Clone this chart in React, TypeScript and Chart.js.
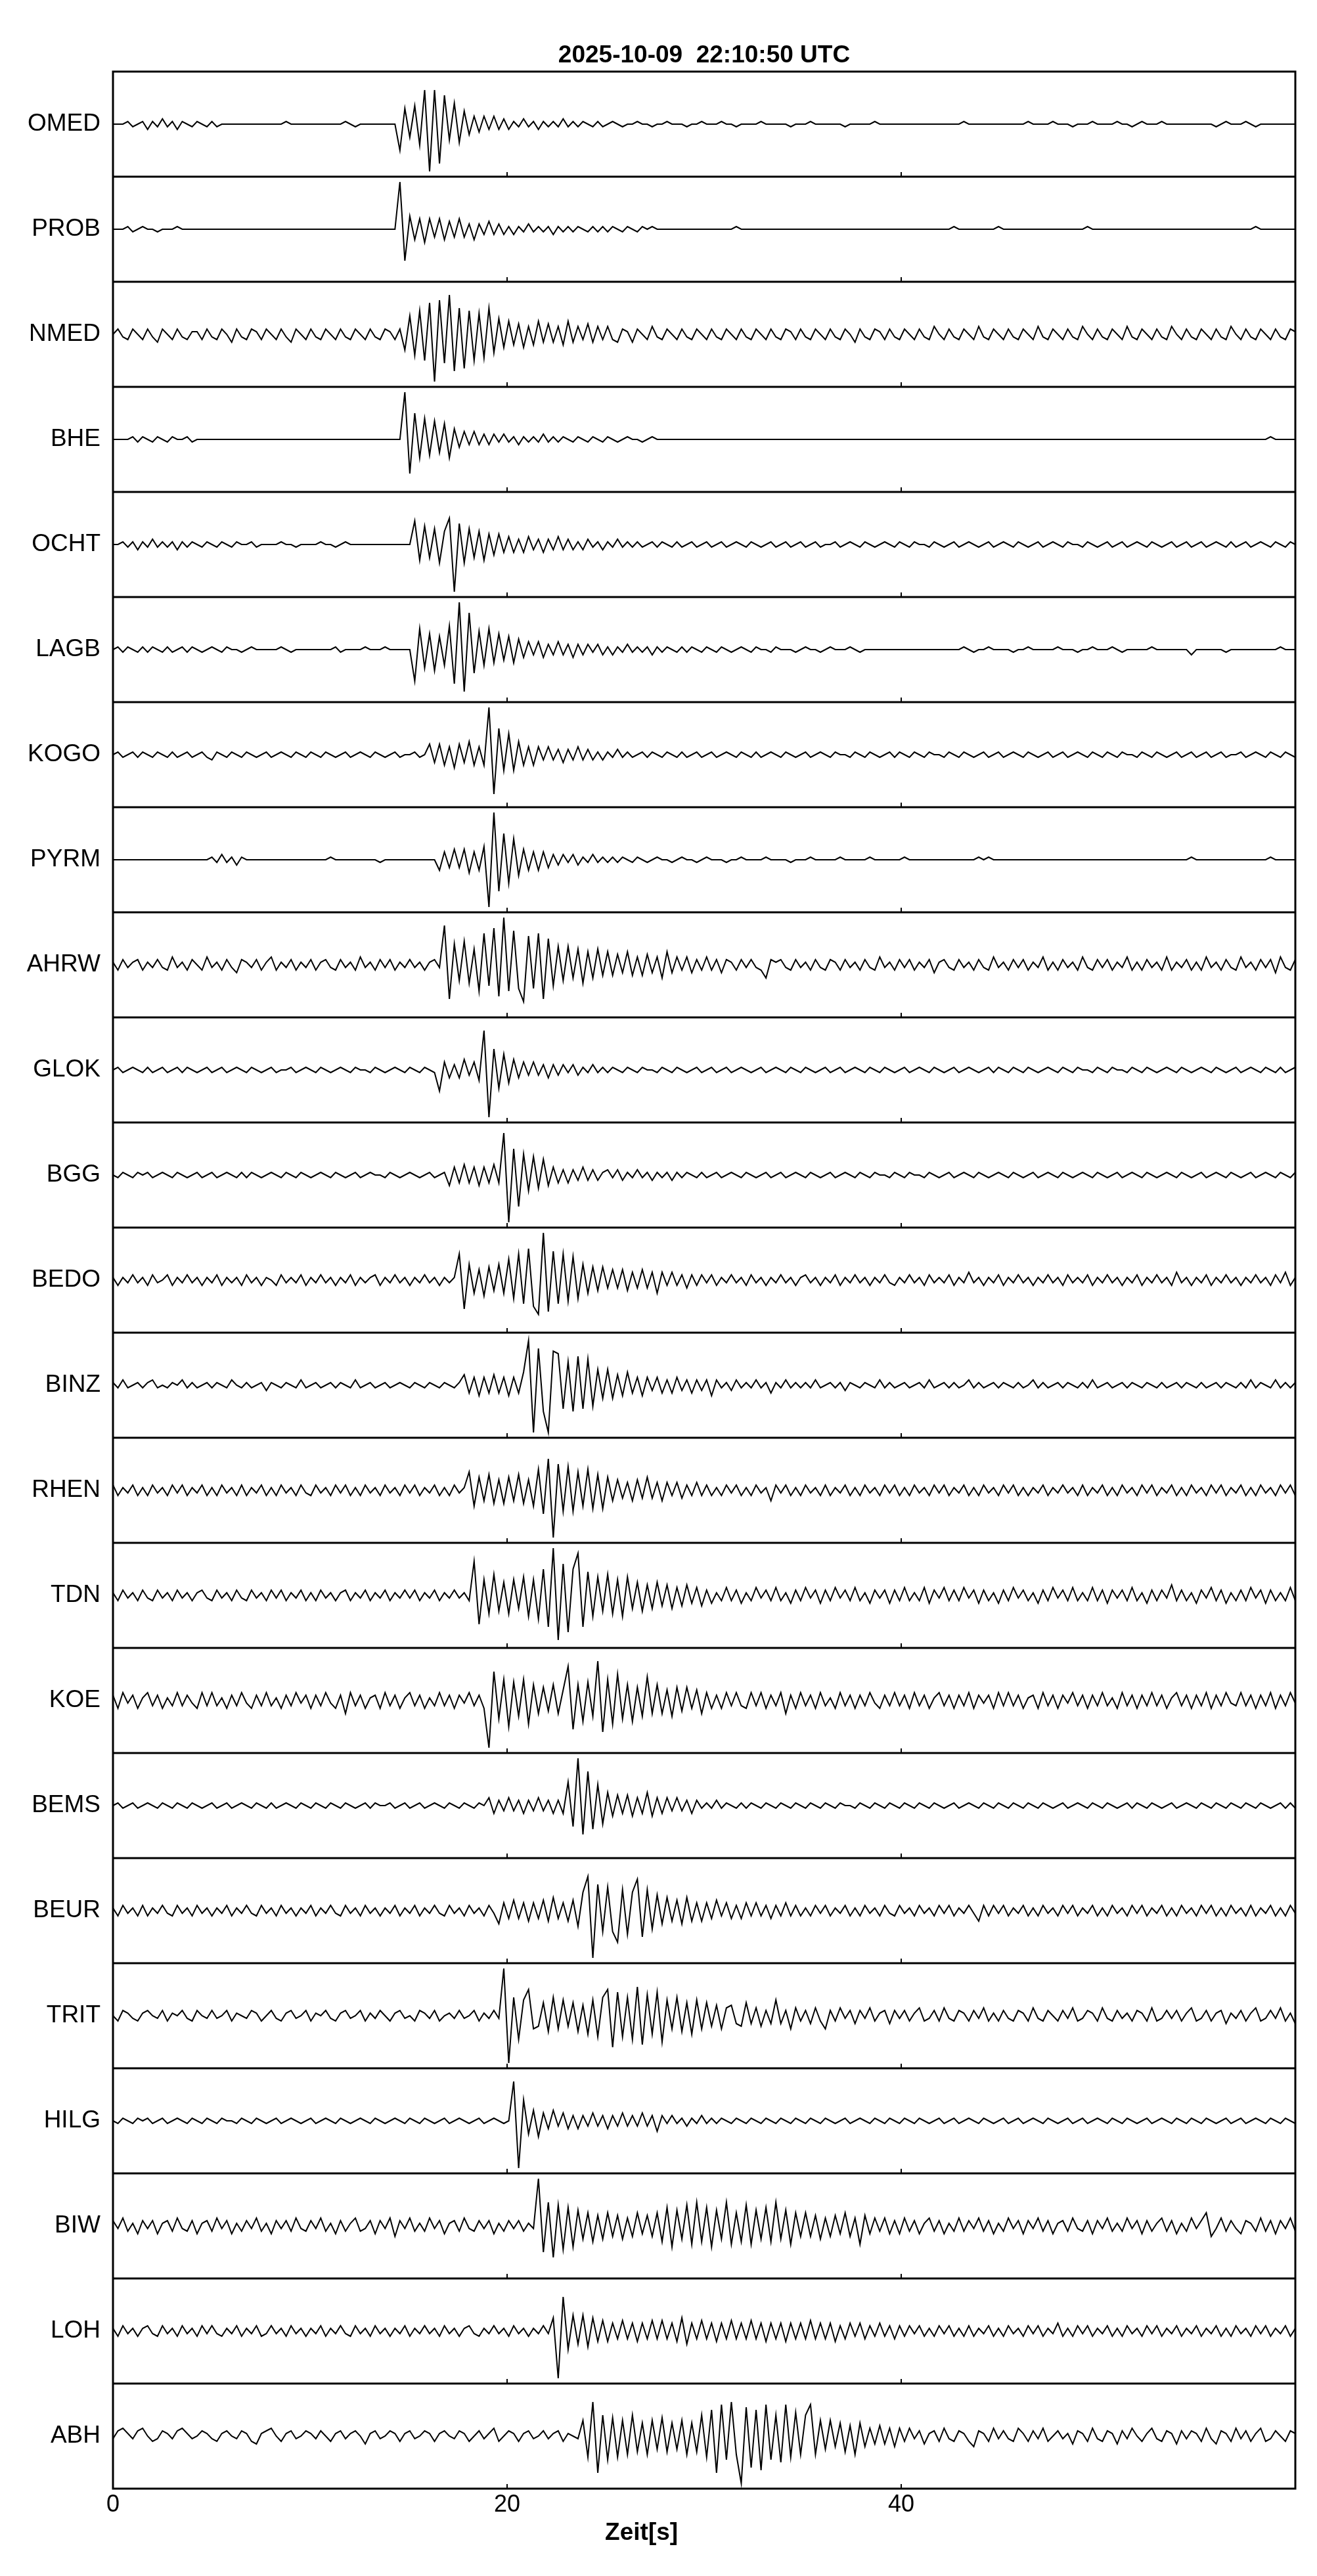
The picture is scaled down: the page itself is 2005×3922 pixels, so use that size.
import { useEffect, useRef } from "react";
import { Chart, registerables } from "chart.js";

Chart.register(...registerables);

const TITLE = "2025-10-09  22:10:50 UTC";
const X_LABEL = "Zeit[s]";
const X_TICKS = [0, 20, 40];
const X_MIN = 0;
const X_MAX = 60;

const STATIONS = [
  "OMED", "PROB", "NMED", "BHE", "OCHT", "LAGB", "KOGO", "PYRM", "AHRW", "GLOK", "BGG", "BEDO",
  "BINZ", "RHEN", "TDN", "KOE", "BEMS", "BEUR", "TRIT", "HILG", "BIW", "LOH", "ABH",
];

// amplitudes sampled every 0.25 s (20 values per 5 s row); 20 = half a trace band
const OMED = [
  0,0,0,1,-1,0,1,-2,1,-1,2,-1,1,-2,1,0,-1,1,0,-1,
  1,-1,0,0,0,0,0,0,0,0,0,0,0,0,0,1,0,0,0,0,
  0,0,0,0,0,0,0,1,0,-1,0,0,0,0,0,0,0,0,-10,6,
  -5,7,-8,13,-18,13,-15,11,-6,8,-7,5,-4,3,-3,3,-2,3,-2,2,
  -2,1,-1,2,-1,1,-2,1,-1,1,-1,2,-1,1,-1,1,0,-1,1,-1,
  0,1,0,-1,0,0,1,0,0,-1,0,0,1,0,0,0,-1,0,0,1,
  0,0,0,1,0,0,-1,0,0,0,0,1,0,0,0,0,0,-1,0,0,
  0,1,0,0,0,0,0,0,-1,0,0,0,0,0,1,0,0,0,0,0,
  0,0,0,0,0,0,0,0,0,0,0,0,1,0,0,0,0,0,0,0,
  0,0,0,0,0,1,0,0,0,0,1,0,0,0,-1,0,0,0,1,0,
  0,0,0,1,0,0,-1,0,1,0,0,0,1,0,0,0,0,0,0,0,
  0,0,0,-1,0,1,0,0,0,1,0,-1,0,0,0,0,0,0,0,0,
];
const PROB = [
  0,0,0,1,-1,0,1,0,0,-1,0,0,0,1,0,0,0,0,0,0,
  0,0,0,0,0,0,0,0,0,0,0,0,0,0,0,0,0,0,0,0,
  0,0,0,0,0,0,0,0,0,0,0,0,0,0,0,0,0,0,18,-12,
  5,-4,4,-5,4,-3,4,-4,3,-3,4,-3,2,-4,2,-2,3,-2,2,-2,
  1,-2,1,-1,2,-1,1,-1,1,-2,1,-1,1,-1,1,0,-1,1,-1,1,
  -1,1,0,-1,1,0,-1,1,0,1,0,0,0,0,0,0,0,0,0,0,
  0,0,0,0,0,0,1,0,0,0,0,0,0,0,0,0,0,0,0,0,
  0,0,0,0,0,0,0,0,0,0,0,0,0,0,0,0,0,0,0,0,
  0,0,0,0,0,0,0,0,0,0,1,0,0,0,0,0,0,0,0,1,
  0,0,0,0,0,0,0,0,0,0,0,0,0,0,0,0,0,1,0,0,
  0,0,0,0,0,0,0,0,0,0,0,0,0,0,0,0,0,0,0,0,
  0,0,0,0,0,0,0,0,0,0,0,1,0,0,0,0,0,0,0,0,
];
const NMED = [
  0,2,-1,-2,2,0,-2,2,-1,-3,2,0,-2,2,-1,-2,1,1,-2,2,
  -1,-2,2,0,-3,2,-1,-2,2,1,-2,2,0,-2,2,-1,-3,2,0,-2,
  2,-1,-2,2,0,-2,2,-1,-2,2,0,-2,2,-1,-2,2,1,-2,2,-6,
  7,-8,9,-10,12,-18,13,-11,15,-14,10,-13,9,-10,8,-9,10,-7,6,-5,
  5,-4,4,-5,3,-4,5,-3,4,-3,3,-4,5,-3,3,-2,4,-3,3,-2,
  3,-2,-3,2,1,-3,2,0,-2,3,-1,-2,2,0,-2,2,-1,-2,2,0,
  -2,2,-1,-2,2,0,-2,2,-1,-2,2,0,-2,2,-1,-2,2,1,-2,2,
  -1,-2,2,0,-2,2,-1,-2,2,0,-3,2,-1,-2,2,1,-2,2,-1,-2,
  2,0,-2,2,-1,-2,3,0,-2,2,-1,-2,2,0,-2,3,-1,-2,2,0,
  -2,2,-1,-2,2,0,-2,3,-1,-2,2,0,-2,2,-1,-2,3,0,-2,2,
  -1,-2,2,0,-2,3,-1,-2,2,0,-2,2,-1,-2,3,0,-2,2,-1,-2,
  2,0,-2,2,-1,-2,3,0,-2,2,-1,-2,2,0,-2,2,-1,-2,2,1,
];
const BHE = [
  0,0,0,0,1,-1,1,0,-1,1,0,-1,1,0,0,1,-1,0,0,0,
  0,0,0,0,0,0,0,0,0,0,0,0,0,0,0,0,0,0,0,0,
  0,0,0,0,0,0,0,0,0,0,0,0,0,0,0,0,0,0,0,18,
  -13,10,-7,8,-6,7,-5,6,-7,4,-3,3,-2,3,-2,2,-2,2,-1,2,
  -1,1,-2,1,-1,1,-1,2,-1,1,-1,1,0,-1,1,0,-1,1,0,-1,
  1,0,-1,0,1,0,0,-1,0,1,0,0,0,0,0,0,0,0,0,0,
  0,0,0,0,0,0,0,0,0,0,0,0,0,0,0,0,0,0,0,0,
  0,0,0,0,0,0,0,0,0,0,0,0,0,0,0,0,0,0,0,0,
  0,0,0,0,0,0,0,0,0,0,0,0,0,0,0,0,0,0,0,0,
  0,0,0,0,0,0,0,0,0,0,0,0,0,0,0,0,0,0,0,0,
  0,0,0,0,0,0,0,0,0,0,0,0,0,0,0,0,0,0,0,0,
  0,0,0,0,0,0,0,0,0,0,0,0,0,0,1,0,0,0,0,0,
];
const OCHT = [
  0,0,1,-1,1,-2,1,-1,2,-1,1,-1,1,-2,1,-1,1,0,-1,1,
  0,-1,1,0,-1,1,0,0,1,-1,0,0,0,0,1,0,0,-1,0,0,
  0,0,1,0,0,-1,0,1,0,0,0,0,0,0,0,0,0,0,0,0,
  0,9,-6,7,-5,6,-7,5,10,-18,8,-7,6,-5,5,-6,4,-4,4,-3,
  3,-3,2,-3,3,-2,2,-3,2,-2,3,-2,2,-2,1,-2,2,-1,1,-2,
  1,-1,2,-1,1,-1,1,-1,0,1,-1,1,0,-1,1,-1,0,1,-1,0,
  1,-1,0,1,-1,0,1,0,-1,1,0,-1,0,1,-1,0,1,-1,0,1,
  -1,0,1,-1,0,0,1,-1,0,1,0,-1,1,0,-1,0,1,0,-1,1,
  0,-1,1,0,0,-1,1,0,-1,0,1,-1,0,1,0,-1,0,1,-1,0,
  1,0,-1,1,0,-1,0,1,-1,0,1,0,-1,1,0,0,-1,1,0,-1,
  0,1,-1,0,1,-1,0,1,0,-1,1,0,-1,0,1,-1,0,1,-1,0,
  1,-1,0,1,0,-1,1,-1,0,1,-1,0,1,0,-1,1,0,-1,1,0,
];
const LAGB = [
  0,1,-1,1,0,-1,1,-1,1,0,-1,1,-1,0,1,-1,1,0,-1,0,
  1,0,-1,1,0,0,-1,0,1,0,0,0,0,0,1,0,-1,0,0,0,
  0,0,0,0,0,1,-1,0,0,0,0,1,0,0,0,1,0,0,0,0,
  0,-12,8,-7,6,-8,5,-6,9,-13,18,-16,14,-9,7,-6,8,-5,6,-4,
  5,-5,4,-3,3,-2,3,-3,2,-2,3,-2,2,-3,2,-2,2,-1,2,-2,
  1,-2,1,-1,2,-1,1,-1,1,-2,1,-1,1,0,-1,1,-1,1,0,-1,
  1,0,-1,1,0,-1,0,1,0,-1,1,0,0,-1,1,0,0,0,-1,0,
  1,0,0,-1,0,1,0,0,0,1,0,-1,0,0,0,0,0,0,0,0,
  0,0,0,0,0,0,0,0,0,0,0,0,1,0,-1,0,0,1,0,0,
  0,0,-1,0,0,1,0,0,0,0,0,1,0,0,0,-1,0,0,1,0,
  0,0,1,0,-1,0,0,0,0,0,1,0,0,0,0,0,0,0,-2,0,
  0,0,0,0,0,-1,0,0,0,0,0,0,0,0,0,0,1,0,0,0,
];
const KOGO = [
  0,1,-1,0,1,-1,1,0,-1,1,0,-1,1,-1,0,1,-1,0,1,-1,
  -2,1,0,-1,1,0,-1,1,0,-1,0,1,-1,0,1,0,-1,1,0,-1,
  1,0,-1,1,0,-1,0,1,-1,0,1,0,-1,1,0,-1,0,1,-1,0,
  0,1,-1,0,4,-3,4,-4,3,-5,4,-3,5,-4,3,-4,18,-15,10,-6,
  8,-6,5,-4,3,-4,3,-2,3,-2,2,-3,2,-2,3,-2,2,-2,1,-2,
  1,-1,2,-1,1,-1,0,1,-1,1,0,-1,1,0,-1,1,-1,0,1,-1,
  0,1,-1,0,1,0,-1,1,0,-1,1,-1,0,1,0,-1,1,0,-1,0,
  1,-1,0,1,0,-1,1,0,0,-1,1,0,-1,1,0,-1,0,1,-1,1,
  0,-1,1,0,-1,1,0,0,-1,1,0,-1,1,0,-1,0,1,-1,0,1,
  -1,0,1,0,-1,1,0,-1,0,1,-1,0,1,-1,0,1,0,-1,1,0,
  -1,1,0,-1,1,0,0,-1,1,0,-1,1,0,-1,0,1,-1,0,1,-1,
  0,1,-1,0,1,-1,0,0,1,-1,0,1,0,-1,1,0,-1,1,0,-1,
];
const PYRM = [
  0,0,0,0,0,0,0,0,0,0,0,0,0,0,0,0,0,0,0,0,
  1,-1,2,-1,1,-2,1,0,0,0,0,0,0,0,0,0,0,0,0,0,
  0,0,0,0,1,0,0,0,0,0,0,0,0,0,-1,0,0,0,0,0,
  0,0,0,0,0,0,-4,3,-3,4,-3,4,-5,3,-4,5,-18,18,-12,10,
  -9,8,-6,4,-4,3,-4,3,-3,2,-2,2,-1,2,-2,1,-1,2,-1,1,
  -1,1,-1,1,0,-1,1,0,-1,0,1,0,0,-1,0,1,0,0,-1,0,
  1,0,0,0,-1,0,0,1,0,0,0,0,1,0,0,0,0,-1,0,0,
  0,1,0,0,0,0,0,1,0,0,0,0,0,1,0,0,0,0,0,0,
  1,0,0,0,0,0,0,0,0,0,0,0,0,0,0,1,0,1,0,0,
  0,0,0,0,0,0,0,0,0,0,0,0,0,0,0,0,0,0,0,0,
  0,0,0,0,0,0,0,0,0,0,0,0,0,0,0,0,0,0,1,0,
  0,0,0,0,0,0,0,0,0,0,0,0,0,0,1,0,0,0,0,0,
];
const AHRW = [
  1,-2,2,-1,1,2,-2,1,-1,2,-1,-2,3,-1,1,-2,2,0,-2,3,
  -1,1,-2,2,-1,-3,2,1,-1,2,-2,1,3,-2,1,-1,2,-2,1,-1,
  2,-2,1,2,-1,-2,2,-1,1,-2,3,-1,1,-2,2,-1,2,-2,1,-1,
  2,-1,1,-2,1,2,-1,15,-13,8,-6,9,-7,6,-10,12,-8,14,-12,18,
  -10,13,-9,-14,11,-9,12,-13,10,-8,7,-6,7,-5,6,-7,5,-5,6,-4,
  5,-4,4,-3,5,-4,3,-4,4,-3,3,-5,5,-3,3,-2,3,-3,2,-2,
  3,-2,2,-3,2,1,-2,2,-1,2,-1,-2,-5,2,1,2,-1,-2,2,-1,
  1,-2,2,-1,-2,2,1,-2,2,-1,1,-2,2,-1,-2,3,-1,1,-2,2,
  -1,2,-2,1,-1,2,-3,1,2,-1,-2,2,-1,1,-2,2,-1,-2,3,-1,
  1,-2,2,-1,2,-2,1,-1,3,-2,1,-2,2,-1,1,-2,3,-1,-2,2,
  -1,2,-2,1,-1,3,-2,1,-2,2,-1,1,-2,3,-2,1,-1,2,-2,1,
  -2,3,-1,1,-2,2,-1,-2,3,-1,1,-2,2,-1,2,-3,3,-1,-2,2,
];
const GLOK = [
  0,1,-1,0,1,0,-1,1,-1,0,1,-1,0,1,-1,1,0,-1,0,1,
  -1,0,1,-1,0,1,0,-1,1,0,-1,0,1,-1,0,0,1,-1,0,1,
  0,-1,1,0,-1,0,1,0,-1,1,0,0,-1,1,0,-1,0,1,0,-1,
  1,0,-1,1,0,-1,-8,3,-3,2,-3,4,-2,3,-4,15,-18,8,-7,6,
  -5,4,-3,3,-2,3,-2,2,-3,2,-2,2,-1,2,-2,1,-1,2,-1,1,
  -1,1,0,-1,1,0,-1,1,0,0,-1,1,0,-1,1,0,-1,0,1,-1,
  0,1,-1,0,1,-1,0,1,0,-1,0,1,-1,0,1,0,-1,1,0,-1,
  1,0,-1,0,1,-1,0,1,-1,0,1,0,-1,1,0,-1,1,0,-1,0,
  1,-1,0,1,0,-1,1,0,-1,0,1,-1,0,1,0,-1,0,1,-1,1,
  0,-1,1,0,-1,1,0,-1,0,1,0,-1,1,0,-1,1,0,0,-1,1,
  0,-1,1,0,0,-1,1,0,-1,1,0,-1,0,1,0,-1,1,0,-1,0,
  1,0,-1,1,0,-1,0,1,-1,0,1,0,-1,1,0,-1,1,-1,0,1,
];
const BGG = [
  0,-1,1,0,-1,1,0,1,-1,0,1,0,-1,1,0,-1,0,1,-1,0,
  1,-1,0,1,0,-1,1,-1,1,0,-1,0,1,0,-1,1,0,-1,1,0,
  -1,0,1,0,-1,1,0,-1,0,1,-1,0,1,0,0,-1,1,0,-1,0,
  1,0,-1,0,1,-1,0,1,-4,3,-3,4,-3,3,-4,3,-3,4,-3,16,
  -18,10,-12,8,-6,7,-5,6,-4,3,-3,2,-3,2,-2,3,-2,2,-2,1,
  2,-1,2,-2,1,-1,2,-1,1,-2,1,-1,1,-2,1,-1,1,0,-1,1,
  -1,0,1,-1,0,1,0,-1,1,0,-1,0,1,-1,0,1,-1,0,1,0,
  -1,1,0,-1,0,1,-1,0,1,0,-1,1,0,-1,1,0,0,-1,1,0,
  -1,1,0,0,-1,1,0,-1,0,1,-1,0,1,0,-1,1,0,-1,0,1,
  0,-1,1,0,-1,0,1,-1,0,1,0,-1,1,0,-1,0,1,0,-1,1,
  0,-1,0,1,-1,0,1,0,-1,1,0,-1,0,1,0,-1,1,0,-1,0,
  1,-1,0,1,0,-1,1,0,-1,0,1,-1,0,1,0,-1,1,0,-1,1,
];
const BEDO = [
  1,-2,1,-1,2,-1,1,-2,2,-1,0,2,-2,1,-1,2,-1,1,-2,1,
  -1,2,-2,1,-1,1,-2,2,-1,1,-2,1,0,-2,2,-1,1,-1,2,-2,
  1,-1,2,-1,1,-2,1,-1,2,-2,1,-1,1,2,-2,1,-1,2,-1,1,
  -2,1,-1,2,-1,1,-2,1,-1,1,10,-11,6,-5,4,-6,5,-4,6,-5,
  8,-7,10,-9,12,-10,-13,18,-12,11,-9,10,-8,9,-7,6,-5,5,-4,5,
  -3,4,-3,4,-4,3,-3,4,-3,3,-5,3,-2,3,-2,2,-3,2,-2,2,
  -1,2,-2,1,-1,2,-1,1,-2,2,-1,1,-2,1,-1,2,-1,1,-2,1,
  2,-1,1,-2,1,-1,2,-2,1,-1,2,-1,1,-2,1,-1,2,-1,-2,1,
  -1,2,-1,1,-2,2,-1,1,-1,2,-2,1,-1,3,-1,1,-2,1,-1,2,
  -2,1,-1,2,-1,1,-2,1,-1,2,-1,1,-2,2,-1,1,-1,2,-2,1,
  -1,2,-1,1,-2,1,-1,2,-2,1,-1,2,-1,1,-2,3,-1,1,-2,1,
  -1,2,-2,1,-1,2,-1,1,-2,1,-1,2,-1,1,-2,2,-1,3,-2,1,
];
const BINZ = [
  1,-1,2,-1,0,1,-1,1,2,-1,0,-1,1,0,2,-1,1,-1,0,1,
  -1,1,0,-1,2,0,-1,1,-1,0,1,-2,1,0,-1,1,0,-1,2,-1,
  0,1,-1,0,1,-1,1,0,-1,2,-1,0,1,-1,0,1,-1,0,1,0,
  -1,1,0,-1,1,0,-1,1,0,-1,1,4,-3,3,-4,3,-3,4,-3,3,
  -4,3,-3,5,17,-18,14,-10,-18,13,12,-9,9,-10,11,-9,10,-8,6,-5,
  6,-5,4,-4,5,-3,3,-4,3,-2,3,-3,2,-3,3,-2,2,-3,2,-2,
  2,-4,2,-1,1,-2,2,-1,1,-1,2,-1,1,-3,1,-1,2,-1,1,-1,
  1,-1,2,-1,0,1,-1,1,-2,1,0,-1,1,0,-1,2,-1,1,-1,0,
  1,-1,0,1,-1,2,-1,0,1,-1,1,-1,0,2,-1,1,-1,0,1,-1,
  1,0,-1,1,-1,0,2,-1,1,-1,0,1,-1,1,0,-1,1,-1,2,-1,
  0,1,-1,0,1,-1,1,0,-1,1,0,-1,1,-1,0,1,-1,1,0,-1,
  1,-1,0,1,-1,1,0,-1,1,-1,2,-1,1,0,-1,2,-1,1,-1,1,
];
const RHEN = [
  2,-2,1,-1,2,-2,1,-2,2,-1,1,-2,2,-1,2,-2,1,-1,2,-2,
  1,-2,2,-1,1,-2,2,-2,1,-1,2,-2,1,-2,2,-1,1,-2,2,-1,
  -2,2,-1,1,-2,2,-1,2,-2,1,-2,2,-1,1,-2,2,-1,1,-2,2,
  -1,2,-2,1,-1,2,-2,1,-2,2,-1,1,7,-6,5,-4,6,-5,4,-5,
  5,-4,6,-5,4,-6,8,-9,12,-18,10,-8,9,-8,7,-6,8,-7,6,-7,
  5,-4,4,-3,3,-4,4,-3,5,-3,3,-4,3,-2,3,-3,2,-2,3,-2,
  2,-2,1,-2,2,-1,2,-2,1,-2,2,-1,1,-4,2,-1,2,-2,1,-2,
  2,-1,1,-2,2,-2,1,-1,2,-2,1,-2,2,-1,1,-2,2,-1,2,-2,
  1,-2,2,-1,1,-2,2,-1,2,-2,1,-1,2,-2,1,-2,2,-1,1,-2,
  2,-1,2,-2,1,-2,1,-1,2,-2,1,-1,2,-1,1,-2,2,-2,1,-1,
  2,-2,1,-2,2,-1,1,-2,2,-1,2,-2,1,-1,2,-2,1,-2,2,-1,
  1,-2,2,-1,2,-2,1,-1,2,-2,1,-2,2,-1,1,-2,2,-1,2,-2,
];
const TDN = [
  1,-2,2,-1,1,-2,2,-1,-2,2,-1,1,-2,2,-1,1,-2,1,2,-1,
  -2,2,-1,1,-2,2,-1,-2,2,-1,1,-2,2,-1,2,-2,1,-1,2,-2,
  1,-2,2,-1,1,-2,1,2,-2,1,-1,2,-2,1,-1,2,-2,1,-1,2,
  -1,2,-2,1,-1,2,-2,1,-1,2,-1,1,-2,13,-11,6,-7,8,-6,5,
  -7,6,-5,7,-8,6,-9,10,-12,18,-17,12,-14,10,16,-12,9,-8,7,-6,
  8,-7,6,-8,7,-5,5,-6,4,-5,5,-4,4,-5,3,-4,4,-3,3,-4,
  2,-3,1,-2,3,-2,2,-3,1,-2,3,-1,2,-2,3,-2,1,-3,2,-2,
  3,-1,2,-3,2,-2,3,-1,2,-2,3,-2,1,-3,2,-1,2,-3,2,-2,
  3,-2,1,-2,3,-3,2,-1,3,-2,2,-2,3,-1,2,-3,2,-2,1,-3,
  2,-2,3,-1,2,-2,1,-3,2,-2,3,-1,2,-2,3,-2,1,-2,3,-2,
  2,-3,2,-1,2,-2,3,-2,1,-3,2,-2,2,-1,4,-2,2,-2,1,-3,
  2,-1,3,-2,2,-3,1,-2,2,-2,3,-1,2,-3,2,-2,1,-2,3,-2,
];
const KOE = [
  2,-3,3,-1,2,-3,1,3,-2,2,-3,1,-2,3,-2,2,-1,-3,3,-2,
  3,-2,1,-3,2,-2,3,-1,-3,2,-2,3,-2,1,-3,2,-2,3,-1,2,
  -3,2,-2,3,-1,-3,2,-5,3,-2,2,-3,1,2,-3,3,-2,2,-3,1,
  3,-2,2,-3,1,-2,3,-2,2,-3,2,-1,3,-2,2,-3,-18,11,-7,8,
  -10,7,-6,8,-9,6,-5,5,-4,6,-5,4,13,-11,6,-8,7,-6,15,-12,
  8,-9,10,-7,6,-8,5,-6,9,-5,6,-5,4,-6,5,-4,5,-3,4,-5,
  3,-3,2,-3,3,-2,3,-2,-3,3,-2,3,-3,2,-2,3,-5,2,-3,3,
  -2,2,-3,3,-2,1,-3,3,-2,2,-3,2,-2,3,-1,-3,2,-2,3,-2,
  2,-3,3,-2,2,-3,1,3,-2,2,-3,2,-2,3,-3,2,-1,2,-3,3,
  -2,3,-2,2,-3,1,2,-3,3,-2,2,-3,2,-1,3,-2,2,-3,2,-2,
  3,-2,1,-3,3,-2,2,-3,2,-2,3,-2,2,-3,1,3,-2,2,-3,2,
  -2,3,-3,2,-2,3,-1,-2,3,-2,2,-3,2,-2,3,-3,2,-2,3,-1,
];
const BEMS = [
  0,1,-1,0,1,-1,0,1,0,-1,1,0,-1,1,0,-1,1,0,-1,0,
  1,-1,0,1,-1,0,1,0,-1,1,0,-1,1,-1,0,1,0,-1,1,0,
  -1,1,0,-1,1,0,-1,1,0,-1,0,1,-1,1,0,0,1,-1,0,1,
  -1,0,1,-1,0,1,0,-1,1,0,-1,1,0,-1,1,0,3,-3,2,-2,
  3,-2,2,-3,2,-2,3,-2,2,-3,2,-3,9,-8,18,-11,13,-9,8,-7,
  5,-4,4,-3,4,-4,3,-3,5,-4,3,-3,3,-2,3,-2,2,-3,2,-1,
  1,-1,2,-1,1,0,-1,1,-1,1,0,-1,1,0,-1,1,0,-1,1,0,
  -1,1,0,-1,1,0,-1,1,0,0,-1,1,0,-1,1,0,-1,1,0,-1,
  1,0,-1,1,0,-1,1,0,-1,0,1,-1,0,1,0,-1,1,0,-1,1,
  0,-1,1,0,-1,1,0,-1,1,0,-1,0,1,-1,0,1,0,-1,1,0,
  -1,1,0,-1,0,1,-1,1,0,-1,1,0,-1,0,1,-1,0,1,0,-1,
  1,0,-1,1,0,-1,1,0,-1,1,0,-1,1,0,-1,0,1,-1,1,-1,
];
const BEUR = [
  1,-2,2,-1,1,-2,2,-2,1,-1,2,-1,-2,2,-1,1,-2,2,-1,1,
  -2,1,-1,2,-2,1,-1,2,-1,-2,2,-1,1,-2,2,-1,1,-2,1,-1,
  2,-2,1,-1,2,-1,-2,2,-1,1,-2,2,-1,1,-2,1,-1,2,-2,1,
  -1,2,-2,1,-1,2,-1,-2,2,-1,1,-2,2,-1,1,-2,2,-1,-5,3,
  -3,4,-3,3,-4,3,-3,4,-4,5,-3,3,-4,4,-6,7,13,-18,10,-8,
  9,-8,-12,8,-9,7,12,-10,8,-7,6,-5,5,-4,4,-5,5,-4,3,-4,
  3,-3,4,-2,3,-3,2,-3,3,-2,3,-2,2,-3,2,-2,3,-2,2,-2,
  1,-2,2,-1,2,-2,1,-1,2,-2,1,-2,2,-1,1,-2,2,-1,-2,2,
  -1,1,-2,2,-1,1,-2,2,-1,2,-2,1,-1,2,-1,-4,2,-2,2,-1,
  2,-2,1,-1,2,-2,1,-2,2,-1,1,-2,2,-1,2,-2,1,-1,2,-2,
  1,-2,2,-1,1,-2,2,-1,2,-2,1,-1,2,-2,1,-2,2,-1,1,-2,
  2,-1,2,-2,1,-2,2,-1,1,-2,2,-2,1,-1,2,-2,1,-2,2,-1,
];
const TRIT = [
  0,-2,2,1,-1,-2,1,2,0,-1,2,-2,1,0,2,-1,-2,2,0,-1,
  2,-1,0,2,-2,1,0,-1,2,1,-2,0,2,-1,-2,1,2,-1,0,2,
  -2,1,0,2,-1,-2,1,2,-1,0,2,-2,1,-1,2,0,-2,1,2,-1,
  0,-2,2,1,-1,2,-2,0,1,-1,2,-1,0,2,-2,1,-1,2,-1,18,
  -18,7,-9,6,10,-5,-4,5,-6,7,-5,6,-4,5,-6,4,-7,6,-8,7,
  10,-12,9,-8,7,-9,11,-11,8,-7,9,-10,6,-5,7,-6,5,-7,6,-5,
  5,-4,4,-5,3,4,-3,-4,5,-3,3,-4,2,-3,6,-3,2,-5,3,-2,
  2,-3,3,-2,-5,2,-2,3,-1,2,-3,2,-1,3,-2,1,2,-3,2,-1,
  2,-2,1,3,-2,-1,2,-2,3,-1,-2,2,1,-2,2,-1,3,-2,1,-2,
  2,-1,-2,2,1,-2,3,-1,-2,2,0,-2,2,-1,3,-2,-1,2,1,-2,
  3,-1,-2,2,-1,1,-2,2,1,-2,3,-2,-1,2,-1,2,-2,1,3,-2,
  -1,2,-2,1,2,-3,1,-1,2,-2,1,3,-2,-1,2,-1,3,-2,1,-3,
];
const HILG = [
  0,-1,1,0,-1,1,0,1,-1,0,1,-1,0,1,0,-1,1,0,-1,1,
  0,-1,1,0,0,-1,1,0,-1,1,0,-1,0,1,-1,0,1,0,-1,0,
  1,-1,0,1,0,-1,1,0,-1,0,1,0,-1,1,0,-1,0,1,0,-1,
  1,0,-1,1,0,-1,0,1,-1,0,1,0,-1,0,1,-1,0,1,0,-1,
  0,15,-18,8,-5,4,-6,3,-3,4,-2,3,-3,2,-3,2,-2,3,-2,2,
  -3,2,-2,3,-2,2,-2,3,-2,2,-4,2,-1,2,-1,1,-2,1,-1,2,
  -1,1,-1,1,0,-1,1,0,-1,1,0,-1,1,0,-1,1,0,-1,1,0,
  -1,1,0,-1,1,0,-1,0,1,-1,0,1,0,-1,1,0,-1,1,0,-1,
  1,0,-1,1,0,-1,0,1,-1,0,1,-1,0,1,0,-1,1,0,-1,0,
  1,-1,0,1,-1,0,1,0,-1,1,0,-1,0,1,-1,0,1,-1,0,1,
  0,-1,1,0,-1,1,0,-1,0,1,-1,0,1,0,-1,1,0,-1,1,0,
  -1,1,0,-1,0,1,-1,0,1,-1,0,1,0,-1,1,0,-1,1,0,-1,
];
const BIW = [
  2,-1,3,-2,1,-3,2,-1,2,-3,1,2,-2,3,-1,-2,2,-3,1,2,
  -2,3,-1,2,-3,1,-2,2,-1,3,-2,1,-3,2,-1,2,-2,3,-1,-2,
  2,-1,3,-2,1,-3,2,-2,1,3,-2,-1,2,-3,2,-1,3,-4,2,-1,
  3,-2,1,-2,3,-1,2,-3,1,2,-2,3,-1,-2,2,-1,2,-3,1,-2,
  2,-1,2,-2,1,-1,18,-10,9,-12,8,-9,7,-8,6,-5,5,-6,4,-5,
  5,-4,4,-5,3,-4,5,-3,4,-4,5,-6,7,-8,6,-5,8,-7,9,-6,
  7,-8,6,-5,9,-7,5,-6,8,-7,6,-5,7,-6,9,-5,6,-7,5,-4,
  5,-4,4,-5,3,-4,4,-3,5,-4,3,-7,4,-3,3,-2,3,-3,2,-3,
  3,-2,2,-3,1,3,-2,2,-3,1,-2,3,-2,2,-1,3,-2,2,-3,1,
  -2,3,-1,2,-3,2,-1,3,-2,2,-3,1,2,-2,3,-1,-2,2,-3,2,
  -1,3,-2,1,-2,3,-1,2,-3,2,-2,1,3,-2,2,-3,1,-2,3,-1,
  2,5,-4,-1,3,-2,2,-1,-3,2,1,-2,3,-2,2,-3,2,-1,3,-2,
];
const LOH = [
  1,-2,2,-1,1,-2,1,2,-1,-2,2,-1,1,-2,2,-1,1,-2,2,-1,
  2,-1,-2,1,-1,2,-2,1,-1,2,-2,-1,2,-1,1,-2,2,-1,1,-2,
  1,-1,2,-2,1,-1,2,-1,-2,2,-1,1,-2,2,-1,1,-2,1,-1,2,
  -2,1,-1,2,-1,1,-2,2,-1,1,-2,1,2,-1,-2,1,-1,2,-1,1,
  -2,2,-1,1,-2,1,-1,2,-1,5,-18,13,-7,6,-5,6,-6,5,-4,4,
  -4,3,-3,4,-3,3,-4,3,-3,4,-3,4,-3,3,-4,5,-5,3,-3,4,
  -3,3,-4,3,-3,4,-3,3,-3,4,-3,3,-4,3,-3,3,-4,3,-3,3,
  -3,4,-3,3,-3,3,-4,2,-3,3,-2,3,-3,2,-2,3,-2,2,-3,2,
  -2,2,-1,2,-2,1,-2,2,-1,2,-2,1,-2,2,-2,1,-1,2,-2,1,
  -2,2,-1,1,-2,2,-1,2,-2,1,-1,3,-2,1,-2,2,-1,2,-2,1,
  -1,2,-2,1,-2,2,-1,1,-2,2,-1,2,-2,1,-1,2,-2,1,-1,2,
  -2,1,-1,2,-2,1,-2,2,-1,1,-2,2,-1,2,-2,1,-1,2,-2,1,
];
const ABH = [
  -1,2,3,1,-1,2,3,0,-2,-1,2,1,-1,2,3,1,-1,0,2,1,
  -1,-2,1,2,0,-1,2,1,-2,-3,1,2,3,0,-2,1,2,-1,0,2,
  1,-1,2,0,-2,1,2,-1,1,2,0,-3,1,2,-1,0,2,1,-2,1,
  2,-1,0,2,1,-2,1,2,0,-1,2,1,-2,0,2,-1,1,3,-2,0,
  2,1,-2,1,2,-1,0,2,-1,1,2,-2,1,0,-1,6,-8,13,-14,8,
  -9,7,-8,6,-7,8,-6,5,-7,6,-5,7,-6,5,-5,6,-7,5,-6,8,
  -8,10,-14,12,-9,13,-7,-18,11,-12,10,-13,12,-9,8,-10,12,-8,9,-7,
  8,12,-7,6,-5,6,-4,5,-6,4,-7,5,-4,3,-3,4,-3,3,-4,3,
  -2,3,-1,2,-3,1,2,-2,3,-1,-2,2,1,-2,-4,2,1,-2,3,-1,
  2,-1,-2,3,1,-2,2,-1,3,-2,0,2,-1,1,-3,2,1,-2,3,-1,
  -2,2,1,-3,2,-1,3,0,-2,1,3,-1,-2,2,1,-3,2,-1,2,1,
  -2,3,-1,-3,2,1,-2,3,-1,2,-2,1,3,-2,-1,2,0,-2,2,1,
];

const TRACES = [
  OMED, PROB, NMED, BHE, OCHT, LAGB, KOGO, PYRM, AHRW, GLOK, BGG, BEDO,
  BINZ, RHEN, TDN, KOE, BEMS, BEUR, TRIT, HILG, BIW, LOH, ABH,
];

const FULL_SCALE = 20; // data units per half band
const FONT = "'Liberation Sans', Arial, Helvetica, sans-serif";

const framePlugin = {
  id: "seisFrame",
  afterDatasetsDraw(chart: any) {
    const { ctx, chartArea: a, scales } = chart;
    const xs = scales.x;
    const ys = scales.y;
    ctx.save();
    ctx.strokeStyle = "#000";
    ctx.lineWidth = 3;
    ctx.strokeRect(a.left, a.top, a.right - a.left, a.bottom - a.top);
    for (let i = 1; i < STATIONS.length; i++) {
      const py = Math.round(ys.getPixelForValue(i));
      ctx.beginPath();
      ctx.moveTo(a.left, py);
      ctx.lineTo(a.right, py);
      ctx.stroke();
    }
    ctx.lineWidth = 2;
    for (let i = 1; i <= STATIONS.length; i++) {
      const py = ys.getPixelForValue(i);
      for (const t of X_TICKS) {
        if (t === X_MIN) continue;
        const px = Math.round(xs.getPixelForValue(t));
        ctx.beginPath();
        ctx.moveTo(px, py);
        ctx.lineTo(px, py - 7);
        ctx.stroke();
      }
    }
    // x axis title
    ctx.fillStyle = "#000";
    ctx.font = `bold 37px ${FONT}`;
    ctx.textAlign = "center";
    ctx.textBaseline = "middle";
    ctx.fillText(X_LABEL, a.left + 0.447 * (a.right - a.left), 3857);
    ctx.restore();
  },
};

export default function App() {
  const ref = useRef<HTMLCanvasElement | null>(null);

  useEffect(() => {
    const canvas = ref.current;
    if (!canvas) return;
    const datasets = TRACES.map((vals, i) => ({
      label: STATIONS[i],
      data: vals.map((v, k) => ({
        x: X_MIN + (k * (X_MAX - X_MIN)) / (vals.length - 1),
        y: i + 0.5 - (v / FULL_SCALE) * 0.5,
      })),
      borderColor: "#000",
      borderWidth: 2,
      pointRadius: 0,
      fill: false,
      tension: 0,
    }));

    const chart = new Chart(canvas, {
      type: "line",
      data: { datasets },
      plugins: [framePlugin],
      options: {
        animation: false,
        responsive: false,
        devicePixelRatio: 1,
        events: [],
        layout: { padding: { left: 0, right: 33, top: 0, bottom: 0 } },
        plugins: {
          legend: { display: false },
          tooltip: { enabled: false },
          title: {
            display: true,
            text: TITLE,
            fullSize: false,
            color: "#000",
            font: { family: FONT, size: 37, weight: "bold", lineHeight: 1.2 },
            padding: { top: 63, bottom: 1.6 },
          },
        },
        scales: {
          x: {
            type: "linear",
            min: X_MIN,
            max: X_MAX,
            afterBuildTicks: (scale: any) => {
              scale.ticks = X_TICKS.map((v) => ({ value: v }));
            },
            afterFit: (scale: any) => {
              scale.height = 133;
            },
            grid: { display: false, drawTicks: false },
            border: { display: false },
            ticks: {
              color: "#000",
              font: { family: FONT, size: 36 },
              padding: 3,
              maxRotation: 0,
              autoSkip: false,
            },
          },
          y: {
            type: "linear",
            min: 0,
            max: STATIONS.length,
            reverse: true,
            afterBuildTicks: (scale: any) => {
              scale.ticks = STATIONS.map((_, i) => ({ value: i + 0.5 }));
            },
            afterFit: (scale: any) => {
              scale.width = 172;
            },
            grid: { display: false, drawTicks: false },
            border: { display: false },
            ticks: {
              color: "#000",
              font: { family: FONT, size: 37 },
              padding: 19,
              autoSkip: false,
              callback: (value: any) => STATIONS[Math.floor(Number(value))],
            },
          },
        },
      } as any,
    });
    return () => chart.destroy();
  }, []);

  return (
    <div style={{ position: "absolute", left: 0, top: 0, width: 2005, height: 3922, background: "#fff" }}>
      <canvas ref={ref} width={2005} height={3922} style={{ display: "block" }} />
    </div>
  );
}
